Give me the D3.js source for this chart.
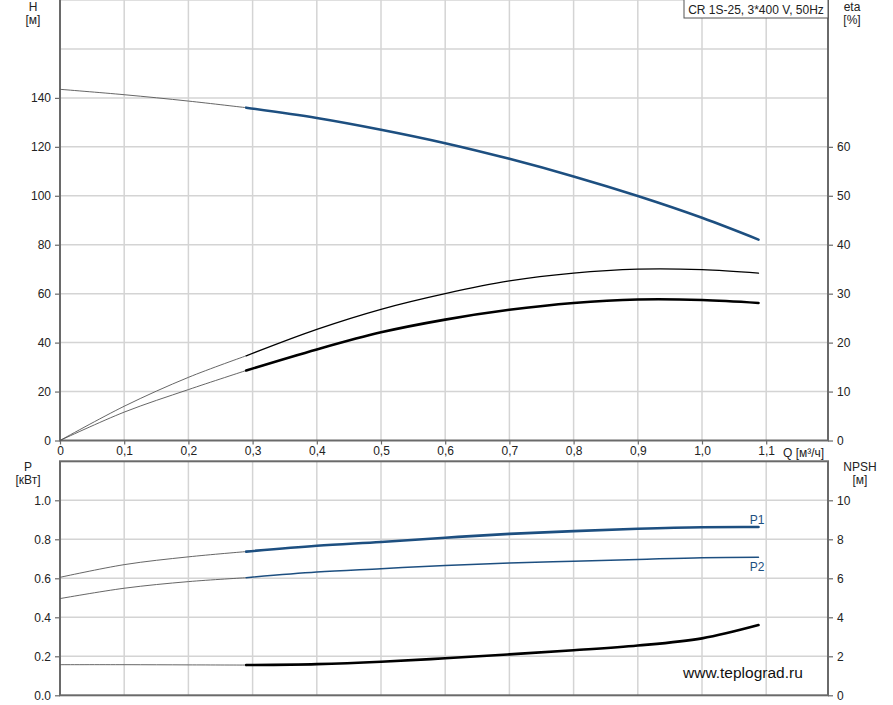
<!DOCTYPE html>
<html>
<head>
<meta charset="utf-8">
<script src="https://cdn.jsdelivr.net/npm/d3@7"></script>
<style>
  body { margin: 0; background: #fff; }
  text { font-family: "Liberation Sans", Arial, sans-serif; }
</style>
</head>
<body>
<script>
// values
let flow = [0, 0.1, 0.2, 0.29, 0.4, 0.5, 0.6, 0.7, 0.8, 0.9, 1.0, 1.088];
let head = [143.5, 141.3, 138.7, 136.0, 131.8, 127.0, 121.5, 115.1, 107.9, 99.9, 91.0, 82.1];
let etaPump = [0, 7.0, 12.9, 17.3, 22.7, 26.8, 30.0, 32.6, 34.2, 35.0, 34.9, 34.2];
let etaTotal = [0, 5.8, 10.4, 14.3, 18.6, 22.1, 24.7, 26.7, 28.1, 28.8, 28.7, 28.1];
let powerP1 = [0.605, 0.67, 0.71, 0.737, 0.767, 0.786, 0.808, 0.828, 0.842, 0.854, 0.862, 0.863];
let powerP2 = [0.496, 0.549, 0.583, 0.603, 0.632, 0.649, 0.666, 0.679, 0.688, 0.697, 0.706, 0.708];
let npsh = [1.57, 1.57, 1.56, 1.55, 1.6, 1.72, 1.9, 2.1, 2.31, 2.55, 2.92, 3.6];

let qTicks = [0, 0.1, 0.2, 0.3, 0.4, 0.5, 0.6, 0.7, 0.8, 0.9, 1.0, 1.1];
let hTicks = [0, 20, 40, 60, 80, 100, 120, 140];
let hGrid = [20, 40, 60, 80, 100, 120, 140, 160, 180];
let etaTicks = [0, 10, 20, 30, 40, 50, 60];
let pTicks = [0, 0.2, 0.4, 0.6, 0.8, 1.0];
let npshTicks = [0, 2, 4, 6, 8, 10];
let opStart = 3; // index where the operating range begins

let width = 893;
let height = 705;
let blue = "#1d4f80";
let gridColor = "#d4d4d4";
let axisColor = "#6a6a6a";

let svg = d3.select("body").append("svg")
  .attr("width", width)
  .attr("height", height);

// scales
let x = d3.scaleLinear().domain([0, 768 / 642]).range([60, 828]);
let yH = d3.scaleLinear().domain([0, 180]).range([440.5, 0]);
let yEta = d3.scaleLinear().domain([0, 90]).range([440.5, 0]);
let yP = d3.scaleLinear().domain([0, 1.2]).range([695.3, 461.3]);
let yN = d3.scaleLinear().domain([0, 12]).range([695.3, 461.3]);

// grid
let grid = svg.append("g").attr("stroke", gridColor).attr("stroke-width", 1.5);
qTicks.slice(1).forEach((q) => {
  grid.append("line").attr("x1", x(q)).attr("x2", x(q)).attr("y1", 0).attr("y2", yH(0));
  grid.append("line").attr("x1", x(q)).attr("x2", x(q)).attr("y1", yP(1.2)).attr("y2", yP(0));
});
hGrid.forEach((h) => {
  grid.append("line").attr("x1", x(0)).attr("x2", 828).attr("y1", yH(h)).attr("y2", yH(h));
});
pTicks.slice(1).forEach((p) => {
  grid.append("line").attr("x1", x(0)).attr("x2", 828).attr("y1", yP(p)).attr("y2", yP(p));
});

// axes
let styleAxis = (g) => {
  g.select(".domain").remove();
  g.selectAll(".tick line").attr("stroke", axisColor).attr("stroke-width", 1.2);
  g.selectAll(".tick text").attr("fill", "#222").attr("font-size", 12)
    .style("font-family", "'Liberation Sans', Arial, sans-serif");
};

svg.append("g").attr("transform", "translate(60,0)")
  .call(d3.axisLeft(yH).tickValues(hTicks).tickSize(5).tickPadding(4).tickFormat(d3.format("d")))
  .call(styleAxis);
svg.append("g").attr("transform", "translate(828,0)")
  .call(d3.axisRight(yEta).tickValues(etaTicks).tickSize(5).tickPadding(4).tickFormat(d3.format("d")))
  .call(styleAxis);
svg.append("g").attr("transform", "translate(0,440.5)")
  .call(d3.axisBottom(x).tickValues(qTicks).tickSize(4).tickPadding(2)
    .tickFormat((d) => d === 0 ? "0" : d3.format(".1f")(d).replace(".", ",")))
  .call(styleAxis);
svg.append("g").attr("transform", "translate(60,0)")
  .call(d3.axisLeft(yP).tickValues(pTicks).tickSize(5).tickPadding(4).tickFormat(d3.format(".1f")))
  .call(styleAxis);
svg.append("g").attr("transform", "translate(828,0)")
  .call(d3.axisRight(yN).tickValues(npshTicks).tickSize(5).tickPadding(4).tickFormat(d3.format("d")))
  .call(styleAxis);

// frame lines
let frame = svg.append("g").attr("stroke", axisColor).attr("stroke-width", 2).attr("fill", "none");
frame.append("path").attr("d", `M60,0V${yH(0)}H828V0`);
frame.append("rect").attr("x", 60).attr("y", yP(1.2)).attr("width", 768).attr("height", yP(0) - yP(1.2));

// axis titles
let title = (tx, ty, lines) => {
  let t = svg.append("text").attr("x", tx).attr("y", ty).attr("text-anchor", "middle")
    .attr("font-size", 12).attr("fill", "#222");
  lines.forEach((s, i) => t.append("tspan").attr("x", tx).attr("dy", i ? 13 : 0).text(s));
};
title(33, 11, ["H", "[м]"]);
title(852, 11, ["eta", "[%]"]);
title(28, 471, ["P", "[кВт]"]);
title(860, 471, ["NPSH", "[м]"]);
svg.append("text").attr("x", 783).attr("y", 456.5).attr("font-size", 12).attr("fill", "#222")
  .text("Q [м³/ч]");

// curves
let drawCurve = (values, yScale, color, thin, thick) => {
  let pts = flow.map((q, i) => [q, values[i]]);
  let line = d3.line().x((d) => x(d[0])).y((d) => yScale(d[1])).curve(d3.curveCatmullRom.alpha(0.5));
  svg.append("path").attr("d", line(pts.slice(0, opStart + 1)))
    .attr("fill", "none").attr("stroke", "#555").attr("stroke-width", thin);
  svg.append("path").attr("d", line(pts.slice(opStart)))
    .attr("fill", "none").attr("stroke", color).attr("stroke-width", thick)
    .attr("stroke-linecap", "round");
};
drawCurve(head, yH, blue, 0.9, 2.6);
drawCurve(etaPump, yEta, "#000", 0.9, 1.3);
drawCurve(etaTotal, yEta, "#000", 0.9, 2.6);
drawCurve(powerP1, yP, blue, 0.9, 2.6);
drawCurve(powerP2, yP, blue, 0.9, 1.5);
drawCurve(npsh, yN, "#000", 0.9, 2.6);

// curve labels
svg.append("text").attr("x", 757).attr("y", yP(powerP1[flow.length - 1]) - 3)
  .attr("text-anchor", "middle").attr("font-size", 12).attr("fill", blue).text("P1");
svg.append("text").attr("x", 757).attr("y", yP(powerP2[flow.length - 1]) + 14)
  .attr("text-anchor", "middle").attr("font-size", 12).attr("fill", blue).text("P2");

// product box
let box = svg.append("g");
box.append("rect").attr("x", 684).attr("y", -1).attr("width", 144).attr("height", 19)
  .attr("fill", "#fff").attr("stroke", "#555").attr("stroke-width", 1);
box.append("text").attr("x", 756).attr("y", 14).attr("text-anchor", "middle")
  .attr("font-size", 12).attr("fill", "#222").text("CR 1S-25, 3*400 V, 50Hz");

// watermark
svg.append("text").attr("x", 683).attr("y", 678).attr("font-size", 15.5).attr("fill", "#111")
  .text("www.teplograd.ru");
</script>
</body>
</html>
